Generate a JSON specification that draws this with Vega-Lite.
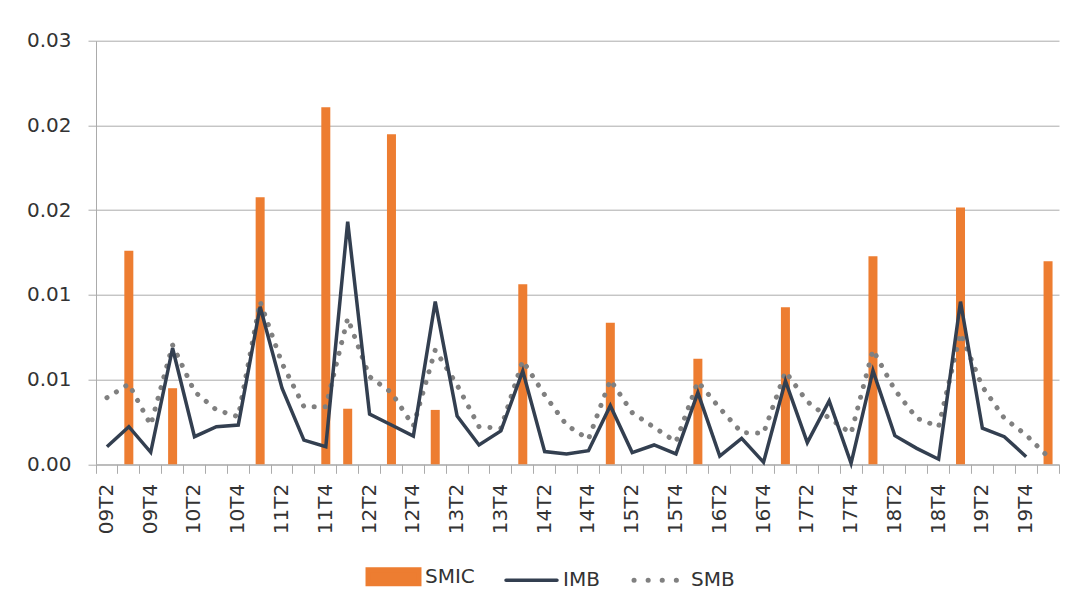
{
  "$schema": "https://vega.github.io/schema/vega-lite/v6.json",
  "autosize": {"type": "none"},
  "width": 963,
  "height": 423.6,
  "padding": {"left": 96, "top": 40.7, "right": 18, "bottom": 146},
  "background": "white",
  "config": {
    "view": {"stroke": null},
    "font": "DejaVu Sans"
  },
  "data": {
    "values": [
      {"q": "09T2", "SMIC": null, "IMB": 0.00104, "SMB": 0.00393},
      {"q": "09T3", "SMIC": 0.01261, "IMB": 0.00222, "SMB": 0.00474},
      {"q": "09T4", "SMIC": null, "IMB": 0.00071, "SMB": 0.00232},
      {"q": "10T1", "SMIC": 0.00449, "IMB": 0.00685, "SMB": 0.00704},
      {"q": "10T2", "SMIC": null, "IMB": 0.00163, "SMB": 0.00429},
      {"q": "10T3", "SMIC": null, "IMB": 0.00222, "SMB": 0.00321},
      {"q": "10T4", "SMIC": null, "IMB": 0.00232, "SMB": 0.00281},
      {"q": "11T1", "SMIC": 0.01576, "IMB": 0.0093, "SMB": 0.0096},
      {"q": "11T2", "SMIC": null, "IMB": 0.00449, "SMB": 0.00596},
      {"q": "11T3", "SMIC": null, "IMB": 0.00143, "SMB": 0.0034},
      {"q": "11T4", "SMIC": 0.02107, "IMB": 0.00104, "SMB": 0.0034},
      {"q": "12T1", "SMIC": 0.00328, "IMB": 0.01432, "SMB": 0.00862},
      {"q": "12T2", "SMIC": null, "IMB": 0.00296, "SMB": 0.00517},
      {"q": "12T3", "SMIC": 0.01948, "IMB": 0.00232, "SMB": 0.00423},
      {"q": "12T4", "SMIC": null, "IMB": 0.00167, "SMB": 0.00226},
      {"q": "13T1", "SMIC": 0.00321, "IMB": 0.0096, "SMB": 0.00675},
      {"q": "13T2", "SMIC": null, "IMB": 0.00285, "SMB": 0.00468},
      {"q": "13T3", "SMIC": null, "IMB": 0.00114, "SMB": 0.00222},
      {"q": "13T4", "SMIC": null, "IMB": 0.00197, "SMB": 0.00213},
      {"q": "14T1", "SMIC": 0.01063, "IMB": 0.00551, "SMB": 0.00612},
      {"q": "14T2", "SMIC": null, "IMB": 0.00075, "SMB": 0.00409},
      {"q": "14T3", "SMIC": null, "IMB": 0.00061, "SMB": 0.00232},
      {"q": "14T4", "SMIC": null, "IMB": 0.0008, "SMB": 0.00148},
      {"q": "15T1", "SMIC": 0.00836, "IMB": 0.00346, "SMB": 0.00498},
      {"q": "15T2", "SMIC": null, "IMB": 0.00069, "SMB": 0.00305},
      {"q": "15T3", "SMIC": null, "IMB": 0.00114, "SMB": 0.00218},
      {"q": "15T4", "SMIC": null, "IMB": 0.00061, "SMB": 0.00133},
      {"q": "16T1", "SMIC": 0.00623, "IMB": 0.00423, "SMB": 0.00488},
      {"q": "16T2", "SMIC": null, "IMB": 0.00048, "SMB": 0.00331},
      {"q": "16T3", "SMIC": null, "IMB": 0.00153, "SMB": 0.00187},
      {"q": "16T4", "SMIC": null, "IMB": 0.00012, "SMB": 0.00183},
      {"q": "17T1", "SMIC": 0.00927, "IMB": 0.00492, "SMB": 0.00547},
      {"q": "17T2", "SMIC": null, "IMB": 0.00128, "SMB": 0.0037},
      {"q": "17T3", "SMIC": null, "IMB": 0.00374, "SMB": 0.00272},
      {"q": "17T4", "SMIC": null, "IMB": 0.00006, "SMB": 0.00183},
      {"q": "18T1", "SMIC": 0.01228, "IMB": 0.00553, "SMB": 0.00675},
      {"q": "18T2", "SMIC": null, "IMB": 0.00169, "SMB": 0.00439},
      {"q": "18T3", "SMIC": null, "IMB": 0.00094, "SMB": 0.00272},
      {"q": "18T4", "SMIC": null, "IMB": 0.0003, "SMB": 0.00222},
      {"q": "19T1", "SMIC": 0.01515, "IMB": 0.0096, "SMB": 0.00773},
      {"q": "19T2", "SMIC": null, "IMB": 0.00213, "SMB": 0.00458},
      {"q": "19T3", "SMIC": null, "IMB": 0.00163, "SMB": 0.00272},
      {"q": "19T4", "SMIC": null, "IMB": 0.00045, "SMB": 0.00173},
      {"q": "20T1", "SMIC": 0.01198, "IMB": null, "SMB": 0.00045}
    ]
  },
  "encoding": {
    "x": {
      "field": "q", "type": "nominal", "sort": null,
      "scale": {
        "type": "band", "paddingInner": 0, "paddingOuter": 0,
        "domain": ["09T2","09T3","09T4","10T1","10T2","10T3","10T4","11T1","11T2","11T3","11T4","12T1","12T2","12T3","12T4","13T1","13T2","13T3","13T4","14T1","14T2","14T3","14T4","15T1","15T2","15T3","15T4","16T1","16T2","16T3","16T4","17T1","17T2","17T3","17T4","18T1","18T2","18T3","18T4","19T1","19T2","19T3","19T4","20T1"]
      },
      "axis": {
        "title": null,
        "bandPosition": 1,
        "tickExtra": true,
        "labelAngle": -90,
        "labelAlign": "right",
        "labelBaseline": "middle",
        "labelOverlap": false,
        "labelBound": false,
        "labelFlush": false,
        "labelExpr": "(substring(datum.value, 2, 4) == 'T2' || substring(datum.value, 2, 4) == 'T4') ? datum.value : ''",
        "labelFontSize": 20,
        "labelColor": "#333333",
        "labelPadding": 10,
        "tickSize": 9,
        "tickColor": "#ABABAB",
        "domainColor": "#ABABAB",
        "grid": false
      }
    }
  },
  "layer": [
    {
      "mark": {"type": "bar", "width": 9},
      "encoding": {
        "y": {
          "field": "SMIC", "type": "quantitative",
          "scale": {"domain": [0, 0.025], "nice": false, "zero": true},
          "axis": {
            "title": null,
            "values": [0, 0.005, 0.01, 0.015, 0.02, 0.025],
            "labelExpr": "format(round(datum.value * 100) / 100, '.2f')",
            "labelFontSize": 20,
            "labelColor": "#333333",
            "labelPadding": 17,
            "tickSize": 8,
            "tickColor": "#ABABAB",
            "domainColor": "#ABABAB",
            "gridColor": "#ABABAB",
            "grid": true
          }
        },
        "color": {
          "datum": "SMIC",
          "scale": {"domain": ["SMIC", "IMB", "SMB"], "range": ["#ED7D31", "#333F50", "#808080"]},
          "legend": {
            "title": null,
            "orient": "none",
            "direction": "horizontal",
            "legendX": 272,
            "legendY": 526,
            "padding": 0,
            "columnPadding": 24,
            "labelFontSize": 20,
            "labelColor": "#333333",
            "symbolOffset": 15.5,
            "labelOffset": 21.5,
            "symbolSize": 2600,
            "encode": {
              "symbols": {
                "update": {
                  "shape": {"signal": "datum.value === 'SMIC' ? 'M-1,-0.27H1V0.27H-1Z' : 'stroke'"},
                  "fill": {"signal": "datum.value === 'SMIC' ? '#ED7D31' : 'transparent'"},
                  "stroke": {"signal": "datum.value === 'SMIC' ? 'transparent' : (datum.value === 'IMB' ? '#333F50' : '#808080')"},
                  "strokeWidth": {"signal": "datum.value === 'IMB' ? 3.5 : 5"},
                  "strokeDash": {"signal": "datum.value === 'SMB' ? [0.1, 14] : [1, 0]"},
                  "strokeCap": {"value": "round"},
                  "opacity": {"value": 1}
                }
              }
            }
          }
        }
      }
    },
    {
      "mark": {"type": "line", "strokeWidth": 5, "strokeDash": [0.1, 11], "strokeCap": "round"},
      "encoding": {
        "y": {"field": "SMB", "type": "quantitative"},
        "color": {"datum": "SMB"}
      }
    },
    {
      "mark": {"type": "line", "strokeWidth": 3.5, "strokeJoin": "miter"},
      "encoding": {
        "y": {"field": "IMB", "type": "quantitative"},
        "color": {"datum": "IMB"}
      }
    }
  ]
}
